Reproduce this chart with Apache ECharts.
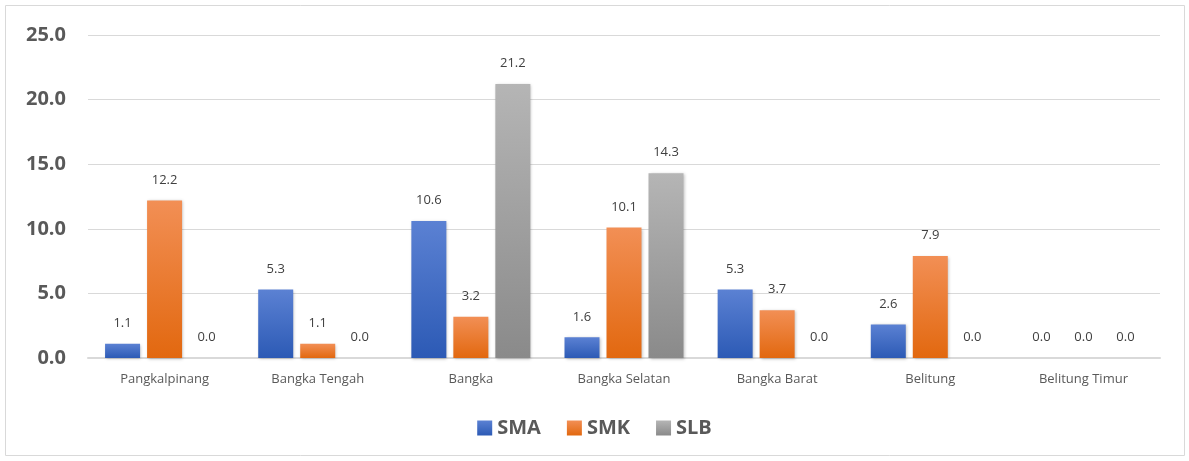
<!DOCTYPE html>
<html lang="en">
<head>
	<meta charset="utf-8" />
	<title>SMA SMK SLB</title>
	<style>
		html, body { margin: 0; padding: 0; background: #fff; }
	</style>
</head>
<body>
	<div id="chart" style="width:1189px;height:461px;"></div>
	<script src="https://cdn.jsdelivr.net/npm/echarts@6/dist/echarts.min.js"></script>
	<script>
		var categories = ['Pangkalpinang', 'Bangka Tengah', 'Bangka', 'Bangka Selatan', 'Bangka Barat', 'Belitung', 'Belitung Timur'];
		var sma = [1.1, 5.3, 10.6, 1.6, 5.3, 2.6, 0.0];
		var smk = [12.2, 1.1, 3.2, 10.1, 3.7, 7.9, 0.0];
		var slb = [0.0, 0.0, 21.2, 14.3, 0.0, 0.0, 0.0];

		var font = '"Open Sans", "Liberation Sans", sans-serif';

		function grad(top, bottom) {
			return new echarts.graphic.LinearGradient(0, 0, 0, 1, [
				{ offset: 0, color: top },
				{ offset: 1, color: bottom }
			]);
		}

		function makeSeries(name, data, top, bottom) {
			return {
				name: name,
				type: 'bar',
				data: data,
				barWidth: 35,
				barGap: '20%',
				itemStyle: {
					color: grad(top, bottom),
					shadowColor: 'rgba(0,0,0,0.25)',
					shadowBlur: 3,
					shadowOffsetX: 1,
					shadowOffsetY: 1
				},
				label: {
					show: true,
					position: 'top',
					distance: 14,
					color: '#404040',
					fontFamily: font,
					fontSize: 13,
					formatter: function (p) { return p.value.toFixed(1); }
				}
			};
		}

		var chart = echarts.init(document.getElementById('chart'));
		chart.setOption({
			animation: false,
			graphic: [{
				type: 'rect',
				shape: { x: 5.5, y: 5.5, width: 1179, height: 450 },
				style: { fill: 'none', stroke: '#d9d9d9', lineWidth: 1 }
			}],
			grid: { left: 88, right: 29, top: 35, bottom: 103 },
			legend: {
				bottom: 18,
				left: 'center',
				itemWidth: 15,
				itemHeight: 15,
				itemGap: 26,
				icon: 'rect',
				textStyle: { color: '#595959', fontSize: 20, fontWeight: 'bold', fontFamily: font },
				data: ['SMA', 'SMK', 'SLB']
			},
			xAxis: {
				type: 'category',
				data: categories,
				axisLine: { lineStyle: { color: '#d9d9d9', width: 2 } },
				axisTick: { show: false },
				axisLabel: { color: '#595959', fontSize: 13, fontFamily: font, margin: 15 }
			},
			yAxis: {
				type: 'value',
				min: 0,
				max: 25,
				interval: 5,
				axisLine: { show: false },
				axisTick: { show: false },
				splitLine: { lineStyle: { color: '#d9d9d9', width: 1 } },
				axisLabel: {
					color: '#595959',
					fontSize: 20,
					fontWeight: 'bold',
					fontFamily: font,
					margin: 22,
					formatter: function (v) { return v.toFixed(1); }
				}
			},
			series: [
				makeSeries('SMA', sma, '#5b81d3', '#2c5ab5'),
				makeSeries('SMK', smk, '#f28f55', '#e2680f'),
				makeSeries('SLB', slb, '#b5b5b5', '#8a8a8a')
			]
		});
	</script>
</body>
</html>
